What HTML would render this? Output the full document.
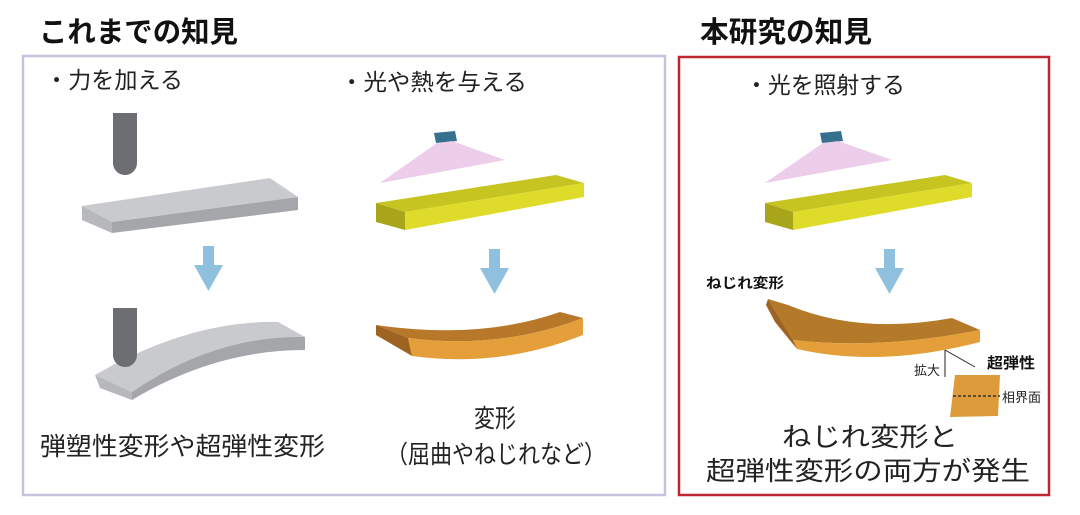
<!DOCTYPE html>
<html><head><meta charset="utf-8"><style>
html,body{margin:0;padding:0;background:#fff;}
svg{display:block;font-family:"Liberation Sans","Noto Sans CJK JP",sans-serif;}
</style></head><body>
<svg width="1080" height="515" viewBox="0 0 1080 515" xmlns="http://www.w3.org/2000/svg">
<rect x="0" y="0" width="1080" height="515" fill="#fff"/>
<!-- titles -->
<text x="39" y="42" font-size="29" font-weight="bold" textLength="199" lengthAdjust="spacingAndGlyphs" fill="#111">これまでの知見</text>
<text x="700" y="42" font-size="29" font-weight="bold" textLength="172" lengthAdjust="spacingAndGlyphs" fill="#111">本研究の知見</text>
<!-- boxes -->
<rect x="23" y="56" width="642" height="439" fill="none" stroke="#c4c2dc" stroke-width="2.5"/>
<rect x="679" y="57" width="370" height="438" fill="none" stroke="#c0242f" stroke-width="2.5"/>
<!-- labels -->
<text x="45" y="88" font-size="23" textLength="138" lengthAdjust="spacingAndGlyphs" fill="#222">・力を加える</text>
<text x="340" y="90" font-size="23" textLength="187" lengthAdjust="spacingAndGlyphs" fill="#222">・光や熱を与える</text>
<text x="745" y="93" font-size="23" textLength="160" lengthAdjust="spacingAndGlyphs" fill="#222">・光を照射する</text>

<!-- pen 1 -->
<path d="M113 113 H137 V163 A12 12 0 0 1 113 163 Z" fill="#6c6e72"/>
<!-- gray bar -->
<polygon points="82,206 270,178 298,197 112,222" fill="#c9cacd"/>
<polygon points="112,222 298,197 298,210 112,233" fill="#a4a6aa"/>
<polygon points="82,206 112,222 112,233 82,220" fill="#b6b8bb"/>
<!-- arrow 1 -->
<polygon points="203,246 214,246 214,265 223,265 208.5,291 194,265 203,265" fill="#8fc1de"/>
<!-- bent gray bar -->
<path d="M95,375 Q190,320 278,322 L305,337 Q215,335 132,392 Z" fill="#c9cacd"/>
<path d="M132,392 Q215,335 305,337 L305,350 Q215,350 132,400 Z" fill="#a4a6aa"/>
<polygon points="95,375 132,392 132,400 100,388" fill="#b6b8bb"/>
<!-- pen 2 -->
<path d="M113 308 H137 V355 A12 12 0 0 1 113 355 Z" fill="#6c6e72"/>

<!-- light source 1 -->
<polygon points="434,133 455,131 457,141 436,143" fill="#35708c"/>
<polygon points="437,143 452,141 505,160 380,183" fill="#e9c4e6" opacity="0.85"/>
<!-- yellow bar 1 -->
<polygon points="376,203 556,175 584,183 405,212" fill="#c6c421"/>
<polygon points="405,212 584,183 584,197 405,230" fill="#dfdb2a"/>
<polygon points="376,203 405,212 405,230 376,222" fill="#a9a51a"/>
<!-- arrow 2 -->
<polygon points="489,249 500,249 500,268 509,268 494.5,294 480,268 489,268" fill="#8fc1de"/>
<!-- orange bent bar -->
<path d="M376,325 L408,338 Q500,350 583,318 L560,312 Q480,340 376,325 Z" fill="#b8782a"/>
<path d="M408,338 Q500,350 583,318 L583,335 Q500,368 412,356 Z" fill="#e59f3a"/>
<polygon points="376,325 408,338 412,356 376,335" fill="#9e6320"/>

<!-- right: light source -->
<polygon points="820,133 841,131 843,141 822,143" fill="#35708c"/>
<polygon points="823,143 838,141 892,160 765,183" fill="#e9c4e6" opacity="0.85"/>
<polygon points="765,203 945,175 972,183 793,212" fill="#c6c421"/>
<polygon points="793,212 972,183 972,197 793,230" fill="#dfdb2a"/>
<polygon points="765,203 793,212 793,230 765,222" fill="#a9a51a"/>
<polygon points="884,249 895,249 895,268 904,268 889.5,294 875,268 884,268" fill="#8fc1de"/>
<text x="706" y="288" font-size="14" font-weight="bold" textLength="78" lengthAdjust="spacingAndGlyphs" fill="#111">ねじれ変形</text>
<!-- twisted orange bar -->
<path d="M768,299 L788,305 Q860,335 952,318 L980,330 Q880,350 793,340 Z" fill="#b47a2a"/>
<path d="M793,340 Q880,350 980,330 L980,342 Q880,368 797,349 Z" fill="#e59f3a"/>
<polygon points="768,299 793,340 797,349 775,322 766,305" fill="#9e6320"/>
<!-- zoom lines -->
<line x1="945" y1="350" x2="945" y2="377" stroke="#222" stroke-width="1"/>
<line x1="945" y1="350" x2="975" y2="367" stroke="#222" stroke-width="1"/>
<text x="914" y="375" font-size="13" fill="#222">拡大</text>
<text x="987" y="368" font-size="15" font-weight="bold" textLength="48" lengthAdjust="spacingAndGlyphs" fill="#111">超弾性</text>
<polygon points="955,375 1000,375 998,416 950,417" fill="#dd9b3c"/>
<line x1="953" y1="396" x2="1000" y2="396" stroke="#333" stroke-width="1.5" stroke-dasharray="3,2"/>
<text x="1002" y="402" font-size="13" fill="#222">相界面</text>

<!-- bottom texts -->
<text x="40" y="455" font-size="25" textLength="285" lengthAdjust="spacingAndGlyphs" fill="#222">弾塑性変形や超弾性変形</text>
<text x="474" y="427" font-size="25" textLength="42" lengthAdjust="spacingAndGlyphs" fill="#222">変形</text>
<text x="386" y="463" font-size="25" textLength="220" lengthAdjust="spacingAndGlyphs" fill="#222">（屈曲やねじれなど）</text>
<text x="782" y="446" font-size="26" textLength="176" lengthAdjust="spacingAndGlyphs" fill="#222">ねじれ変形と</text>
<text x="706" y="480" font-size="26" textLength="324" lengthAdjust="spacingAndGlyphs" fill="#222">超弾性変形の両方が発生</text>
</svg>
</body></html>
